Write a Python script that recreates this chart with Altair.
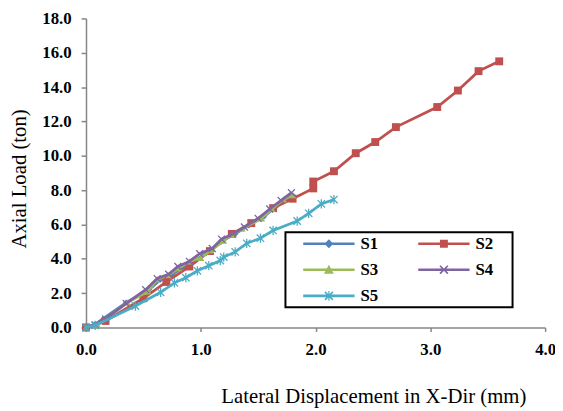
import altair as alt
import pandas as pd

series = ["S1", "S2", "S3", "S4", "S5"]
colors = ["#4F81BD", "#C0504D", "#9BBB59", "#8064A2", "#4BACC6"]

s1_x = [0, 0.08, 0.35, 0.55, 0.65, 0.75, 0.85, 0.95, 1.05, 1.18, 1.3, 1.42, 1.55, 1.65, 1.75, 1.8]
s1_y = [0, 0.2, 1.45, 2.2, 2.8, 3.1, 3.5, 3.9, 4.35, 5.0, 5.45, 5.95, 6.45, 7.0, 7.45, 7.7]

s2_x = [0, 0.17, 0.5, 0.7, 0.9, 1.08, 1.27, 1.44, 1.63, 1.80, 1.98, 1.98, 2.16, 2.35, 2.52, 2.70, 3.06, 3.24, 3.42, 3.60]
s2_y = [0, 0.38, 1.7, 2.65, 3.55, 4.45, 5.45, 6.08, 6.95, 7.5, 8.1, 8.5, 9.1, 10.15, 10.8, 11.67, 12.84, 13.8, 14.93, 15.5]

s3_x = [0, 0.1, 0.36, 0.54, 0.62, 0.72, 0.81, 0.9, 1.0, 1.09, 1.2, 1.27, 1.36, 1.53, 1.62, 1.72, 1.8]
s3_y = [0, 0.15, 1.45, 2.1, 2.8, 3.05, 3.45, 3.85, 4.05, 4.5, 5.05, 5.4, 5.75, 6.35, 6.9, 7.45, 7.7]

s4_x = [0, 0.08, 0.17, 0.35, 0.52, 0.62, 0.72, 0.8, 0.9, 0.99, 1.1, 1.18, 1.28, 1.38, 1.5, 1.6, 1.7, 1.79]
s4_y = [0, 0.15, 0.5, 1.4, 2.2, 2.85, 3.1, 3.55, 3.85, 4.3, 4.6, 5.15, 5.45, 5.85, 6.35, 6.9, 7.4, 7.85]

s5_x = [0, 0.08, 0.43, 0.65, 0.77, 0.87, 0.97, 1.07, 1.17, 1.2, 1.3, 1.4, 1.52, 1.63, 1.84, 1.94, 2.05, 2.16]
s5_y = [0, 0.12, 1.25, 2.05, 2.6, 2.9, 3.3, 3.6, 3.9, 4.1, 4.4, 4.9, 5.2, 5.65, 6.2, 6.65, 7.2, 7.45]

x_ticks = [0, 1, 2, 3, 4]
y_ticks = [0, 2, 4, 6, 8, 10, 12, 14, 16, 18]

all_x = [s1_x, s2_x, s3_x, s4_x, s5_x]
all_y = [s1_y, s2_y, s3_y, s4_y, s5_y]

rows = []
for name, xs, ys in zip(series, all_x, all_y):
    for i, (a, b) in enumerate(zip(xs, ys)):
        rows.append({"series": name, "x": a, "y": b, "idx": i})
df = pd.DataFrame(rows)

FONT = "Liberation Serif"

xenc = alt.X("x:Q", scale=alt.Scale(domain=[0, 4], nice=False),
             axis=alt.Axis(values=x_ticks, format=".1f", grid=False, labelFlush=False,
                           title="Lateral Displacement in X-Dir (mm)",
                           titleX=291, titleY=76, titleAlign="center",
                           titleBaseline="alphabetic", labelPadding=10, tickSize=4))
yenc = alt.Y("y:Q", scale=alt.Scale(domain=[0, 18], nice=False),
             axis=alt.Axis(values=y_ticks, format=".1f", grid=False, labelFlush=False,
                           title="Axial Load (ton)", titleX=-61, titleY=162,
                           titleAngle=270, titleAlign="center",
                           titleBaseline="alphabetic", labelPadding=10, tickSize=5))

# plot markers
marker_shapes = ["diamond", "square", "triangle-up",
                 "M-1,-1L1,1M-1,1L1,-1",
                 "M-1,-1L1,1M-1,1L1,-1M0,-1.25L0,1.25"]
marker_sizes = [40, 64, 50, 49, 56]
marker_filled = [True, True, True, False, False]

base = alt.Chart(df)
layers = []
for name, col, shp, sz, fl in zip(series, colors, marker_shapes, marker_sizes, marker_filled):
    flt = alt.datum.series == name
    line = base.transform_filter(flt).mark_line(strokeWidth=2.75, color=col).encode(
        x=xenc, y=yenc, order="idx:Q")
    if fl:
        pt = base.transform_filter(flt).mark_point(filled=True, opacity=1, size=sz,
                                                   shape=shp, color=col, strokeWidth=0)
    else:
        pt = base.transform_filter(flt).mark_point(filled=False, opacity=1, size=sz,
                                                   shape=shp, color=col, strokeWidth=1.3)
    layers.append(line)
    layers.append(pt.encode(x=xenc, y=yenc))


# legend symbols (line + marker) built as filled polygons in symbol units (r = 8.5 px)
def poly(pts):
    return "M" + "L".join(f"{px:.3f},{py:.3f}" for px, py in pts) + "Z"


R = 8.5
def u(px):
    return (px - R) / R


x0, x1, cx = u(15), u(67), u(41)
t = 1.3 / R
line_p = poly([(x0, -t), (x1, -t), (x1, t), (x0, t)])
d = 4.5 / R
diamond_p = poly([(cx, -d), (cx + d, 0), (cx, d), (cx - d, 0)])
s = 4.0 / R
square_p = poly([(cx - s, -s), (cx + s, -s), (cx + s, s), (cx - s, s)])
a, b, c = 5.0 / R, 5.0 / R, 4.0 / R
tri_p = poly([(cx, -a), (cx + b, c), (cx - b, c)])
e, o = 4.0 / R, 0.058 * 8.5 / R * 1.2
x_p = (poly([(cx - e + o, -e - o), (cx + e + o, e - o), (cx + e - o, e + o), (cx - e - o, -e + o)])
       + poly([(cx - e - o, e - o), (cx + e - o, -e - o), (cx + e + o, -e + o), (cx - e + o, e + o)]))
v, w = 5.0 / R, 0.6 / R
ast_p = x_p + poly([(cx - w, -v), (cx + w, -v), (cx + w, v), (cx - w, v)])

legend_paths = [line_p + diamond_p, line_p + square_p, line_p + tri_p,
                line_p + x_p, line_p + ast_p]

# an invisible title on the right side widens the legend box to match the original
leg = alt.Legend(title="S", titleOrient="right", titleOpacity=0, titlePadding=7,
                 titleFont=FONT, titleFontSize=17, titleFontWeight="bold",
                 orient="none", legendX=202, legendY=216.5, columns=2,
                 direction="horizontal",
                 symbolSize=289, symbolStrokeWidth=0, labelFont=FONT, labelFontSize=17,
                 labelFontWeight="bold", labelColor="black", labelOffset=56,
                 padding=3, rowPadding=8.5,
                 columnPadding=25.5, strokeColor="black", fillColor="white", labelLimit=0)

legend_layer = base.transform_filter("false").mark_point(filled=True, opacity=1).encode(
    x=xenc, y=yenc,
    color=alt.Color("series:N", scale=alt.Scale(domain=series, range=colors), legend=leg),
    shape=alt.Shape("series:N", scale=alt.Scale(domain=series, range=legend_paths), legend=leg),
)
layers.append(legend_layer)

chart = alt.layer(*layers).properties(
    width=465, height=313,
    padding={"left": 79, "top": 8, "right": 10, "bottom": 79},
    autosize="none",
).configure_view(stroke=None).configure_axis(
    labelFont=FONT, labelFontSize=17, labelFontWeight="bold", labelColor="black",
    titleFont=FONT, titleFontSize=21, titleFontWeight="normal", titleColor="black",
    domainColor="#868686", tickColor="#868686", domainWidth=1.5, tickWidth=1.5,
).configure_legend(strokeWidth=2)

chart.save("out.html", embed_options={"renderer": "svg", "actions": False})
